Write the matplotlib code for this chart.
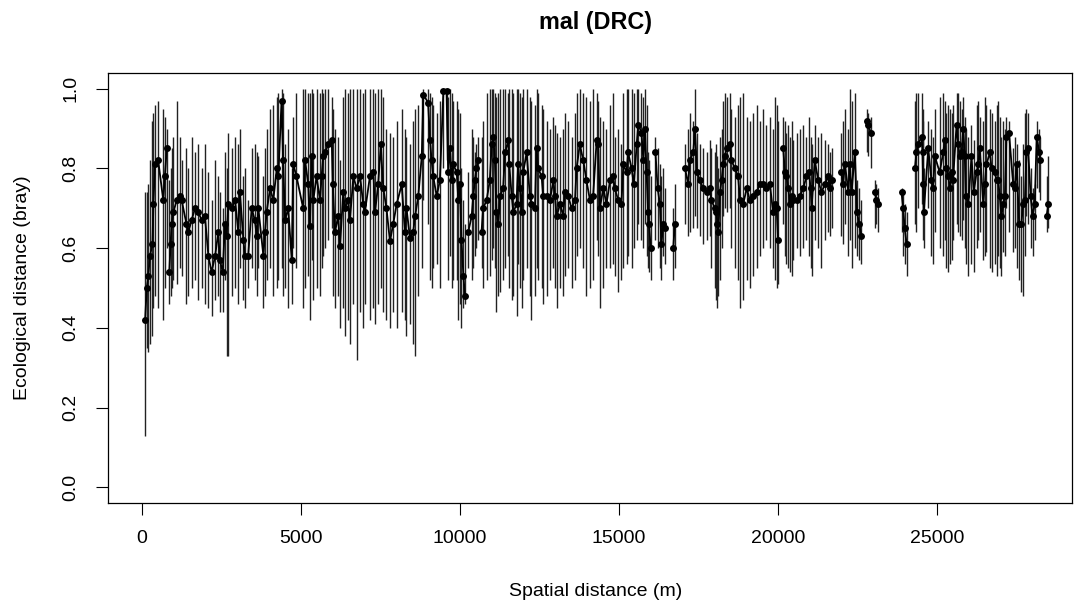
import numpy as np
import matplotlib
matplotlib.use("Agg")
import matplotlib.pyplot as plt

nan = np.nan

# spatial distance bins (m); nan in the mean marks an empty bin (line break)
dist = [
    100, 150, 200, 250, 330, 360, 410, 510, 670, 720, 780,
    820,
    860, 900, 930, 990, 1090, 1195, 1250, 1400, 1460, 1560,
    1670, 1770, 1880, 1980, 2090, 2190, 2300, 2400, 2450, 2540,
    2610, 2660, 2720, 2820, 2930, 3030, 3080, 3190, 3240, 3340,
    3450, 3550, 3610, 3660, 3820, 3870, 3920, 4030, 4130, 4240,
    4290, 4390, 4440, 4500, 4600, 4710, 4760,
    4860, 5070, 5130, 5230, 5280, 5340, 5390, 5490, 5600,
    5650, 5700, 5760, 5860, 5970, 6000, 6070, 6170, 6230, 6330,
    6380, 6490, 6540, 6650, 6750, 6860, 6960, 7010, 7170, 7280,
    7330, 7430, 7510, 7590, 7690, 7800, 7900, 8010, 8170, 8270,
    8320, 8430, 8530, 8590, 8690, 8800, 8850, 9000, 9060, 9110,
    9160, 9270, 9370, 9480, 9580, 9630, 9690, 9740, 9790,
    9900, 9950, 10000, 10050, 10110, 10160,
    10210,
    10260, 10370, 10420, 10470, 10520, 10580,
    10630,
    10680, 10730, 10840, 10940, 11000, 11050, 11100, 11150, 11210, 11260,
    11360, 11420, 11520, 11550, 11630, 11680, 11780, 11830, 11890, 11940,
    11990, 12100, 12200, 12250, 12360, 12410, 12460, 12570, 12620, 12730,
    12830, 12940, 12990, 13040, 13150, 13250, 13300, 13410, 13510, 13620,
    13670, 13770, 13880, 13980, 14090, 14190, 14300, 14350, 14400, 14510,
    14610, 14720, 14820,
    14870, 14980, 15080, 15140, 15240, 15290, 15400, 15470, 15560, 15610,
    15710, 15770, 15820, 15870, 15920, 15950, 16000,
    16080,
    16150, 16220, 16290, 16340, 16390, 16450,
    16580,
    16710, 16760,
    16920,
    17080, 17180, 17230, 17340, 17390, 17460, 17550, 17650, 17760, 17860,
    17910, 18020, 18070, 18100, 18130, 18180, 18230, 18280, 18330, 18390,
    18490, 18540, 18650, 18750, 18810, 18910, 19020, 19120, 19220, 19330,
    19430, 19540, 19640, 19750, 19850,
    19910, 19960, 20010,
    20090,
    20170, 20220, 20270, 20330, 20380, 20430, 20480, 20590, 20690, 20800,
    20900, 20980, 21030, 21060, 21160, 21270, 21370, 21480, 21580, 21640,
    21690,
    21850,
    22000, 22050, 22110, 22220, 22260, 22320, 22420, 22490, 22560, 22630,
    22710,
    22790, 22840, 22920,
    22980,
    23050, 23100, 23150,
    23500,
    23890, 23940, 23990, 24050,
    24180,
    24310, 24360, 24410, 24520, 24550, 24570, 24590,
    24730, 24830, 24880, 24940, 25090, 25200, 25250, 25300, 25360, 25410,
    25490, 25510, 25620, 25670, 25720, 25780, 25830, 25880, 25910, 25990,
    26090, 26160, 26250, 26300, 26350, 26460, 26510, 26560, 26670, 26720,
    26820, 26880, 26930, 26980, 27030, 27090, 27140, 27190, 27270, 27400,
    27450, 27510, 27590, 27660, 27710, 27770, 27820, 27870, 27950, 28010,
    28080, 28140, 28220, 28260,
    28350,
    28450, 28510,
]

# mean ecological distance (bray) per bin
bray_mean = [
    .42, .50, .53, .58, .61, .71, .81, .82, .72, .78, .85,
    nan,
    .54, .61, .66, .69, .72, .73, .72, .66, .64, .67,
    .70, .69, .67, .68, .58, .54, .58, .64, .57, .54,
    .66, .63, .71, .70, .72, .64, .74, .62, .58, .58,
    .70, .67, .63, .70, .58, .64, .69, .75, .72, .80,
    .78, .97, .82, .67, .70, .57, .81,
    .78, .70, .82, .76, .655, .83, .72, .78, .72,
    .78, .83, .84, .86, .87, .76, .64, .68, .605, .74,
    .70, .72, .67, .78, .75, .78, .71, .69, .78, .79,
    .69, .76, .86, .75, .70, .617, .66, .71, .76, .64,
    .70, .625, .64, .68, .73, .83, .985, .965, .87, .82,
    .78, .73, .77, .993, .993, .79, .85, .77, .81,
    .79, .72, .76, .62, .53, .48,
    nan,
    .64, .68, .73, .77, .80, .82,
    nan,
    .64, .70, .72, .77, .86, .88, .82, .69, .66, .73,
    .75, .84, .87, .81, .73, .69, .71, .81, .75, .69,
    .79, .84, .73, .71, .70, .85, .80, .78, .73, .73,
    .72, .77, .73, .68, .71, .68, .74, .73, .70, .72,
    .80, .86, .82, .77, .72, .73, .87, .86, .70, .75,
    .71, .77, .78,
    .75, .72, .71, .81, .79, .84, .80, .76, .86, .91,
    .89, .82, .90, .79, .69, .66, .60,
    nan,
    .84, .75, .71, .61, .66, .65,
    nan,
    .60, .66,
    nan,
    .80, .76, .82, .84, .90, .79, .77, .75, .74, .75,
    .72, .70, .69, .66, .64, .74, .77, .81, .83, .85,
    .86, .82, .80, .78, .72, .71, .75, .72, .73, .74,
    .76, .76, .75, .76, .69,
    .71, .70, .62,
    nan,
    .85, .79, .78, .75, .71, .73, .72, .72, .73, .75,
    .78, .79, .75, .70, .82, .77, .74, .76, .78, .75,
    .77,
    nan,
    .79, .76, .81, .74, .81, .74, .84, .69, .66, .63,
    nan,
    .92, .91, .89,
    nan,
    .74, .72, .71,
    nan,
    .74, .70, .65, .61,
    nan,
    .80, .84, .86, .88, .84, .76, .69,
    .85, .77, .75, .83, .79, .84, .87, .80, .78, .75,
    .79, .77, .91, .86, .83, .84, .90, .83, .73, .71,
    .83, .74, .79, .81, .85, .71, .76, .81, .84, .80,
    .79, .77, .77, .73, .68, .71, .73, .88, .89, .76,
    .75, .81, .66, .66, .71, .72, .84, .85, .73, .68,
    .71, .88, .84, .82,
    nan,
    .68, .71,
]

# lower end of the error bar
bray_lo = [
    .13, .35, .34, .36, .38, .45, .48, .45, .42, .50, .60,
    nan,
    .46, .48, .50, .52, .51, .55, .53, .46, .48, .50,
    .52, .47, .50, .46, .45, .43, .47, .48, .44, .44,
    .52, .33, .33, .48, .50, .46, .55, .47, .45, .50,
    .55, .52, .48, .55, .45, .48, .52, .55, .48, .50,
    .52, .55, .48, .50, .45, .46, .60,
    .55, .45, .50, .53, .42, .57, .47, .50, .48,
    .55, .58, .60, .62, .65, .48, .45, .48, .40, .45,
    .38, .42, .36, .46, .32, .44, .40, .46, .42, .45,
    .41, .46, .50, .44, .42, .40, .44, .40, .44, .42,
    .38, .41, .36, .33, .48, .55, .72, .66, .52, .50,
    .55, .56, .50, .80, .82, .52, .58, .50, .52,
    .52, .42, .46, .40, .45, .46,
    nan,
    .55, .52, .55, .58, .60, .62,
    nan,
    .55, .50, .52, .53, .57, .60, .55, .44, .48, .49,
    .52, .55, .58, .50, .47, .48, .43, .56, .50, .45,
    .52, .55, .48, .42, .48, .55, .52, .50, .46, .48,
    .52, .55, .50, .45, .50, .48, .53, .55, .50, .52,
    .58, .60, .55, .48, .50, .52, .62, .58, .45, .50,
    .55, .55, .56,
    .53, .49, .52, .55, .56, .58, .55, .60, .62, .66,
    .62, .60, .66, .58, .55, .54, .52,
    nan,
    .62, .60, .55, .52, .58, .56,
    nan,
    .52, .55,
    nan,
    .66, .63, .64, .65, .68, .65, .63, .61, .62, .63,
    .55, .50, .47, .45, .48, .52, .60, .68, .70, .69,
    .70, .60, .55, .52, .45, .47, .52, .50, .53, .55,
    .58, .60, .62, .60, .55,
    .52, .50, .51,
    nan,
    .66, .58, .56, .55, .54, .53, .57, .60, .58, .60,
    .62, .58, .55, .53, .62, .60, .55, .62, .64, .63,
    .65,
    nan,
    .63, .61, .66, .58, .62, .55, .60, .58, .57, .56,
    nan,
    .84, .83, .80,
    nan,
    .65, .66, .64,
    nan,
    .64, .58, .56, .53,
    nan,
    .66, .64, .70, .71, .68, .62, .60,
    .70, .58, .56, .64, .60, .58, .62, .55, .54, .56,
    .57, .62, .66, .64, .63, .62, .67, .60, .56, .53,
    .56, .54, .60, .62, .64, .57, .58, .59, .55, .54,
    .56, .53, .58, .55, .53, .59, .58, .70, .64, .59,
    .60, .55, .52, .49, .48, .58, .68, .66, .60, .58,
    .62, .75, .74, .72,
    nan,
    .64, .65,
]

# upper end of the error bar
bray_hi = [
    .74, .74, .76, .82, .92, .94, .96, .97, .95, .93, .90,
    nan,
    .77, .80, .85, .88, .97, .88, .82, .85, .80, .88,
    .84, .86, .80, .86, .79, .72, .82, .78, .74, .70,
    .84, .80, .89, .85, .88, .86, .90, .78, .80, .72,
    .85, .86, .84, .83, .78, .85, .90, .95, .96, .98,
    .99, 1.00, .99, .86, .90, .80, .93,
    .99, 1.00, 1.00, .99, .99, 1.00, .99, 1.00, .99,
    1.00, .99, 1.00, 1.00, .98, .95, .90, .88, .82, .98,
    1.00, .99, 1.00, 1.00, 1.00, 1.00, .99, 1.00, 1.00, 1.00,
    .99, 1.00, 1.00, .98, .90, .89, .88, .92, .95, .90,
    .88, .86, .92, .95, .96, .99, 1.00, 1.00, .99, .98,
    .96, .94, .97, 1.00, 1.00, .98, 1.00, .99, .97,
    .97, .95, .94, .80, .72, .66,
    nan,
    .79, .90, .88, .84, .86, .88,
    nan,
    .88, .92, .99, 1.00, 1.00, 1.00, .99, .98, .99, 1.00,
    1.00, 1.00, .99, 1.00, 1.00, .99, 1.00, 1.00, .99, .98,
    1.00, 1.00, .98, .97, .96, 1.00, .99, .96, .95, .92,
    .90, .93, .91, .89, .88, .90, .94, .92, .88, .94,
    .99, 1.00, .99, .98, .97, 1.00, .99, .97, .93, .92,
    .90, .96, .99,
    .88, .90, .86, .99, 1.00, 1.00, 1.00, .99, 1.00, 1.00,
    .99, .98, 1.00, .96, .84, .82, .78,
    nan,
    .88, .85, .81, .78, .80, .75,
    nan,
    .70, .76,
    nan,
    .86, .90, .94, .92, 1.00, .89, .86, .85, .84, .87,
    .85, .84, .86, .83, .80, .88, .90, .97, .99, .98,
    .99, .95, .93, .96, .98, .99, .93, .92, .94, .96,
    .92, .95, .91, .93, .90,
    .98, .96, .92,
    nan,
    .93, .92, .89, .91, .88, .92, .87, .89, .90, .91,
    .88, .93, .88, .86, .91, .88, .89, .87, .86, .84,
    .85,
    nan,
    .89, .92, .95, .90, 1.00, .97, .99, .77, .75, .72,
    nan,
    .95, .94, .93,
    nan,
    .77, .76, .75,
    nan,
    .75, .74, .71, .69,
    nan,
    .97, .99, .99, .99, .95, .92, .80,
    .92, .90, .88, .95, .98, .99, .97, .94, .96, .95,
    .94, .96, .99, .99, .97, .95, .98, .93, .90, .88,
    .91, .87, .96, .97, .93, .92, .98, .96, .95, .94,
    .92, .96, .97, .93, .88, .92, .90, .93, .92, .85,
    .88, .86, .82, .78, .86, .94, .95, .94, .80, .75,
    .76, .92, .90, .88,
    nan,
    .78, .83,
]

x_ticks = [0, 5000, 10000, 15000, 20000, 25000]
y_ticks = [0.0, 0.2, 0.4, 0.6, 0.8, 1.0]

assert len(dist) == len(bray_mean) == len(bray_lo) == len(bray_hi)

plt.rcParams['font.family'] = ['Liberation Sans', 'DejaVu Sans']

x = np.array(dist, dtype=float)
m = np.array(bray_mean, dtype=float)
lo = np.array(bray_lo, dtype=float)
hi = np.array(bray_hi, dtype=float)
ok = ~np.isnan(m)

fig = plt.figure(figsize=(10.74, 6.09), dpi=100)
ax = fig.add_axes([0.1008, 0.1736, 0.8973, 0.7070])

# error bars
ax.vlines(x[ok], lo[ok], hi[ok], color='#222222', linewidth=1.0)
# means joined by a line, broken at empty bins
ax.plot(x, m, color='black', linewidth=1.3, marker='o', markersize=5,
        markeredgewidth=0)

ax.set_xlim(-1060, 29250)
ax.set_ylim(-0.04, 1.04)
ax.set_xticks(x_ticks)
ax.set_xticklabels([str(t) for t in x_ticks])
ax.set_yticks(y_ticks)
ax.set_yticklabels([f"{t:.1f}" for t in y_ticks], rotation=90, va='center')

ax.tick_params(axis='both', direction='out', length=8.6, width=0.8,
               color='black', labelsize=14, labelcolor='black')
ax.tick_params(axis='x', pad=11)
ax.tick_params(axis='y', pad=12)
for s in ax.spines.values():
    s.set_color('black')
    s.set_linewidth(0.9)

fig.text(0.5549, 1 - 23 / 609, "mal (DRC)", ha='center', va='center',
         fontsize=16.8, fontweight='bold')
fig.text(0.5549, 1 - 591 / 609, "Spatial distance (m)", ha='center',
         va='center', fontsize=14)
fig.text(23 / 1074, 0.1736 + 0.7070 / 2, "Ecological distance (bray)",
         ha='center', va='center', rotation=90, fontsize=14)

fig.savefig("out.png", dpi=100)
